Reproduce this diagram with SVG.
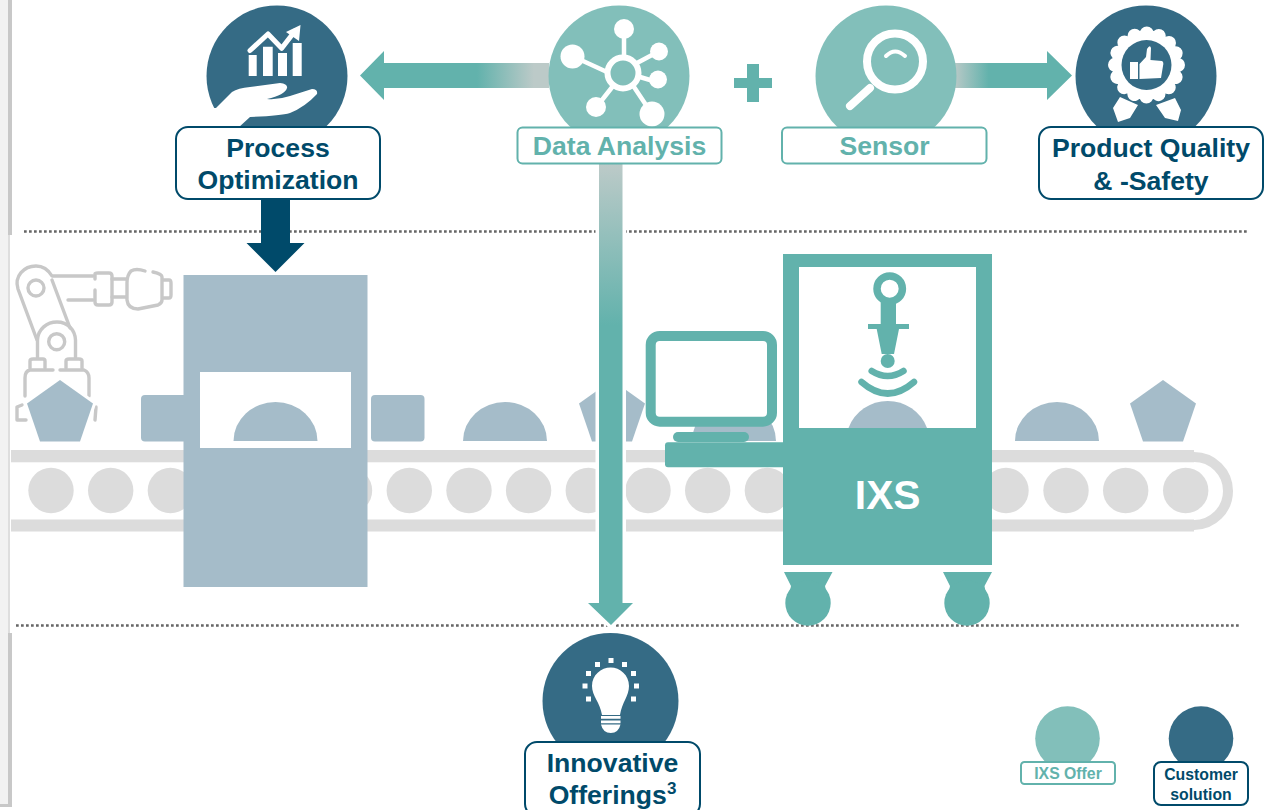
<svg xmlns="http://www.w3.org/2000/svg" xmlns:xlink="http://www.w3.org/1999/xlink" width="1268" height="810" viewBox="0 0 1268 810">
<style>
text{font-family:"Liberation Sans",Arial,sans-serif;font-weight:700;text-anchor:middle}
.t{font-size:26.6px}
.dk{fill:#004a6a}
.tl{fill:#62b2ac}
.s{font-size:15.8px}
.cd{fill:#356b85}
.cl{fill:#82bfba}
.ld{fill:#fff;stroke:#004a6a;stroke-width:2}
.ll{fill:#fff;stroke:#62b2ac;stroke-width:2}
.b{fill:#a5bcc9}
.g{fill:#dcdcdc}
.w{fill:#fff}
.wl{fill:none;stroke:#fff;stroke-linecap:round;stroke-linejoin:round}
.rb{fill:none;stroke:#c8c8c8;stroke-width:3.4;stroke-linecap:round;stroke-linejoin:round}
.dot{fill:none;stroke:#666;stroke-width:2.6;stroke-dasharray:2.7 2.3}
</style>
<defs>
<linearGradient id="gl" gradientUnits="userSpaceOnUse" x1="360" y1="0" x2="549" y2="0"><stop offset="0.62" stop-color="#62b2ac"/><stop offset="0.92" stop-color="#bccac8"/></linearGradient>
<linearGradient id="gr" gradientUnits="userSpaceOnUse" x1="953" y1="0" x2="1072" y2="0"><stop offset="0" stop-color="#bccac8"/><stop offset="0.3" stop-color="#62b2ac"/></linearGradient>
<linearGradient id="gd" gradientUnits="userSpaceOnUse" x1="0" y1="164" x2="0" y2="625"><stop offset="0" stop-color="#bccac8"/><stop offset="0.35" stop-color="#62b2ac"/></linearGradient>
<circle id="r" cy="490.5" r="22.7" class="g"/>
<path id="pent" d="M0,0 L33,23.500 L20,61.500 L-20,61.500 L-33,23.500 Z" class="b" stroke="#fff" stroke-width="6" paint-order="stroke"/>
</defs>
<rect width="1268" height="810" fill="#fff"/>
<g id="frame">
<rect x="0" y="0" width="8" height="805" fill="#f2f2f2"/>
<rect x="8" y="0" width="4" height="235" fill="#c8c8c8"/>
<rect x="8" y="235" width="2" height="398" fill="#dedede"/>
<rect x="8" y="633" width="4" height="174" fill="#c8c8c8"/>
<rect x="0" y="804" width="12" height="3" fill="#c8c8c8"/>
</g>
<g id="dividers">
<path class="dot" d="M24,231.500H1248"/>
<path class="dot" d="M16,625.500H1241"/>
</g>
<g id="conveyor">
<rect x="11" y="450" width="1183" height="12.3" class="g"/>
<rect x="11" y="519.500" width="1183" height="12" class="g"/>
<path d="M1194,457 A34,34 0 0 1 1194,525" fill="none" stroke="#dcdcdc" stroke-width="10"/>
<use xlink:href="#r" href="#r" x="51"/><use xlink:href="#r" href="#r" x="110.7"/><use xlink:href="#r" href="#r" x="170.4"/><use xlink:href="#r" href="#r" x="230"/><use xlink:href="#r" href="#r" x="289.8"/><use xlink:href="#r" href="#r" x="349.500"/><use xlink:href="#r" href="#r" x="409.3"/><use xlink:href="#r" href="#r" x="469"/><use xlink:href="#r" href="#r" x="528.6"/><use xlink:href="#r" href="#r" x="588.3"/><use xlink:href="#r" href="#r" x="648"/><use xlink:href="#r" href="#r" x="707.7"/><use xlink:href="#r" href="#r" x="767.4"/><use xlink:href="#r" href="#r" x="1006"/><use xlink:href="#r" href="#r" x="1066"/><use xlink:href="#r" href="#r" x="1125.7"/><use xlink:href="#r" href="#r" x="1185.7"/>
</g>
<g id="robot">
<circle class="rb" cx="36" cy="288" r="8"/>
<circle class="rb" cx="56.7" cy="341.7" r="8"/>
<path class="rb" d="M37,340 L18,289 C14,276 24,266 36,266 C44,266 49,271 52,276 L93,276 M52,280 L70,328 M68,300 L93,300"/>
<path class="rb" d="M95,279 V274 Q95,273 98,273 H109 Q112,273 112,276 V302 Q112,305 109,305 H98 Q95,305 95,302 V290"/>
<path class="rb" d="M112,279 H127 M112,297 H127 M145,271 Q136,268 131,271 Q127,275 127,283 V300 Q128,309 138,309 L158,305 Q162,303 162,300 V277 Q162,274 153,272 M163,280 H169 Q171,280 171,283 V295 Q171,298 169,298 H163"/>
<path class="rb" d="M37.500,358 V340 C38,329 47,322 57,322 C68,322 75,330 75.500,340 V358"/>
<path class="rb" d="M30,368 V361 Q30,359 33,359 H43 Q45,359 45,361 V368 M66,368 V361 Q66,359 69,359 H79 Q82,359 82,361 V368"/>
<path class="rb" d="M53,370 H30 Q25,371 25,378 V396 M60,370 H84 Q89,372 89,378 V396 M22,405 L17,407 V420 H26 M96,407 L95,420"/>
</g>
<g id="items">
<use xlink:href="#pent" href="#pent" x="60" y="380"/>
<use xlink:href="#pent" href="#pent" x="612" y="380"/>
<use xlink:href="#pent" href="#pent" x="1163" y="380"/>
<path class="b" d="M463,441 A42,39 0 0 1 547,441 Z"/>
<path class="b" d="M692,441 A42,39 0 0 1 776,441 Z"/>
<path class="b" d="M1015,441 A42,39 0 0 1 1099,441 Z"/>
</g>
<g id="process-machine">
<rect class="b" x="141" y="395" width="50" height="46.500" rx="4"/>
<rect class="b" x="371" y="395" width="53.500" height="46.500" rx="4"/>
<rect class="b" x="183.500" y="275" width="184" height="312"/>
<rect class="w" x="200" y="372" width="151" height="76"/>
<path class="b" d="M233.500,441 A42,39 0 0 1 317.500,441 Z"/>
</g>
<g id="ixs-machine">
<rect class="tl" x="665" y="442.3" width="125" height="25" rx="3"/>
<rect class="w" x="650.7" y="336" width="121.3" height="85.7" rx="9" stroke="#62b2ac" stroke-width="10"/>
<rect class="tl" x="673" y="432" width="76" height="10" rx="5"/>
<rect class="tl" x="783" y="254" width="209" height="311"/>
<rect class="w" x="799" y="267" width="177" height="161"/>
<path class="b" d="M848.500,428 A42,42 0 0 1 927,428 Z"/>
<circle cx="889.7" cy="288.7" r="12.7" fill="#fff" stroke="#62b2ac" stroke-width="7.500"/>
<path class="tl" d="M880.7,300 H896 V324 H909 V329 H899 L894,354 H881.7 L876.7,329 H868 V324 H880.7 Z"/>
<circle class="tl" cx="887.7" cy="361" r="7"/>
<path d="M871.7,371 Q887.7,381 903.500,371 M861.500,382 Q887.7,405 914,382" fill="none" stroke="#62b2ac" stroke-width="6.500" stroke-linecap="round"/>
<text x="887.7" y="509" font-size="40.8" fill="#fff">IXS</text>
<path class="tl" d="M784,572 H832.500 L825,586 L828,600 H788 L791,586 Z"/>
<circle class="tl" cx="808" cy="603" r="22.7"/>
<path class="tl" d="M943,572 H992 L984.500,586 L987,600 H947 L950,586 Z"/>
<circle class="tl" cx="967" cy="603" r="22.7"/>
</g>
<g id="connectors">
<path fill="url(#gl)" d="M360,75.500 L384,51 V63 H549 V88 H384 V100 Z"/>
<path fill="url(#gr)" d="M953,63 H1047 V51 L1072,75.500 L1047,100 V88 H953 Z"/>
<path fill="url(#gd)" stroke="#fff" stroke-width="7" paint-order="stroke" d="M599,164 H622.500 V603 H633 L611,625 L588,603 H599 Z"/>
<path class="dk" d="M261,199 H290 V243 H304.500 L275.500,272 L246.500,243 H261 Z"/>
</g>
<g id="plus"><path class="tl" d="M734,78 H747 V64 H759 V78 H772 V88 H759 V102 H747 V88 H734 Z"/></g>
<g id="process-optimization">
<circle class="cd" cx="277" cy="76" r="70.500"/>
<path class="w" d="M248.7,55 h8 v21 h-8z M263,46.7 h9.7 V76 H263z M278,53 h9 v23 h-9z M292.7,43 h9 v33 h-9z"/>
<path class="wl" stroke-width="5" d="M250,50.500 L268,34 L281.7,48.300 L295,31"/>
<path class="w" d="M300.500,25 L299,41 L286,32 Z"/>
<path class="w" d="M216,108 L232,92 Q238,88 250,87 L280,83 Q288,84 287,88 Q285,95 267,99 Q278,100 290,96 L312,89 Q318,89 317,94 Q305,107 290,113 Q280,116 250,117 L238,128 H200 V108 Z"/>
<rect class="ld" x="176" y="127" width="204" height="72" rx="12"/>
<text class="t dk" x="278" y="157">Process</text>
<text class="t dk" x="278" y="189">Optimization</text>
</g>
<g id="data-analysis">
<circle class="cl" cx="619" cy="76" r="70.500"/>
<path class="wl" stroke-width="4.500" d="M624,38 V57 M583,61 L607,72 M652,55 L637,63 M650,80 L640,77 M602,100 L613,86 M646,105 L634,87"/>
<circle class="cl" cx="623" cy="73" r="15.500" stroke="#fff" stroke-width="6"/>
<circle class="w" cx="624" cy="29" r="10"/><circle class="w" cx="572.500" cy="56.500" r="12"/><circle class="w" cx="659" cy="51.500" r="9"/><circle class="w" cx="658" cy="79.500" r="9"/><circle class="w" cx="596" cy="107" r="10"/><circle class="w" cx="652" cy="114" r="12.500"/>
<rect class="ll" x="517.500" y="127.500" width="204" height="36" rx="5"/>
<text class="t tl" x="619.500" y="155">Data Analysis</text>
</g>
<g id="sensor">
<circle class="cl" cx="886" cy="76" r="70.500"/>
<circle cx="895" cy="61.500" r="28" fill="none" stroke="#fff" stroke-width="8"/>
<path class="wl" stroke-width="4" d="M886,56 Q895,47 905,56"/>
<path class="wl" stroke-width="8" d="M870,88 L850,106"/>
<rect class="ll" x="782" y="127.500" width="204.500" height="36" rx="5"/>
<text class="t tl" x="884.500" y="155">Sensor</text>
</g>
<g id="product-quality">
<circle class="cd" cx="1146" cy="76" r="70.500"/>
<circle cx="1146.500" cy="65" r="31.500" fill="#fff" stroke="#fff" stroke-width="14" stroke-dasharray="0.01 12.36" stroke-linecap="round"/>
<circle class="cd" cx="1146.500" cy="65" r="25"/>
<path class="w" d="M1130,62 H1138 V79 H1130 Z M1139.500,64 L1146,57 L1147,49 Q1150,44 1151,48 L1150.500,60 L1162,61 Q1164,62 1163,66 L1161,78 L1139.500,79 Z"/>
<path class="w" d="M1120,97 L1138,105 L1130,118 L1118,122 L1113,108 Z M1156,105 L1175,98 L1181,110 L1178,121 L1165,118 Z"/>
<rect class="ld" x="1039" y="127" width="224" height="72" rx="12"/>
<text class="t dk" x="1151" y="157">Product Quality</text>
<text class="t dk" x="1151" y="190">&amp; -Safety</text>
</g>
<g id="innovative-offerings">
<circle class="cd" cx="610.500" cy="701" r="68"/>
<path class="w" d="M602,715 C600,702 592,696 592,686 C592,675 601,667.500 610.700,667.500 C620,667.500 629,675 629,686 C629,696 622,702 620,715 Z"/>
<path class="w" d="M601,716 h19.500 v2.700 h-19.500z M601,720.500 h19.500 v2.700 h-19.500z M601,724.500 h19.500 q-2,8.500 -9.700,8.500 q-7.800,0 -9.800,-8.500z"/>
<path class="w" d="M608.500,658 h5 v5 h-5z M595,662 h5 v5 h-5z M622,662 h5 v5 h-5z M586,671 h5 v5 h-5z M631,671 h5 v5 h-5z M582.500,683.500 h5 v5 h-5z M634,683.500 h5 v5 h-5z M586,696.500 h5 v5 h-5z M631,696.500 h5 v5 h-5z"/>
<rect class="ld" x="525" y="742" width="175" height="74" rx="12"/>
<text class="t dk" x="612.500" y="772">Innovative</text>
<text class="t dk" x="612.500" y="804">Offerings<tspan font-size="17" dy="-10">3</tspan></text>
</g>
<g id="legend-ixs-offer">
<circle class="cl" cx="1067.500" cy="738.500" r="32.300"/>
<rect class="ll" x="1021" y="762" width="94" height="22" rx="3.500"/>
<text class="s tl" x="1068" y="779">IXS Offer</text>
</g>
<g id="legend-customer-solution">
<circle class="cd" cx="1201" cy="738.500" r="32.300"/>
<rect class="ld" x="1154" y="762" width="94" height="43" rx="7"/>
<text class="s dk" x="1201" y="780">Customer</text>
<text class="s dk" x="1201" y="800">solution</text>
</g>
</svg>
